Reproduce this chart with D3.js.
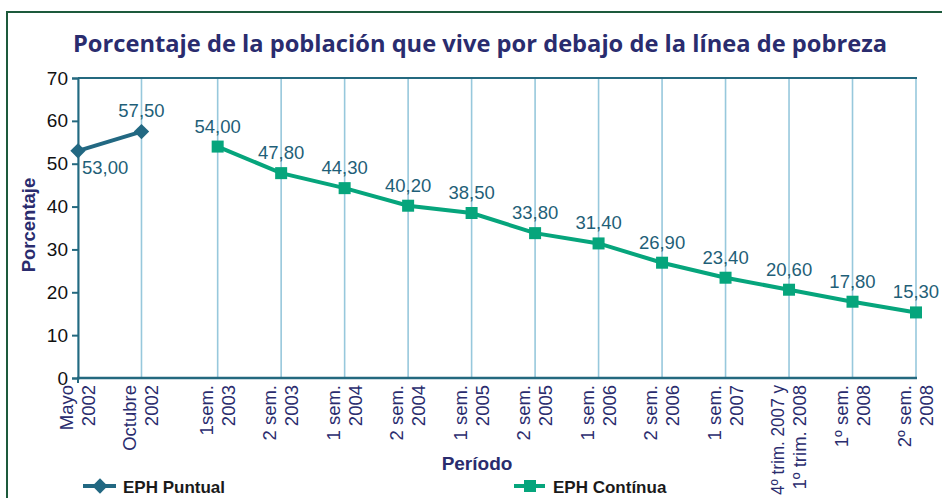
<!DOCTYPE html>
<html>
<head>
<meta charset="utf-8">
<script src="https://cdn.jsdelivr.net/npm/d3@7.9.0/dist/d3.min.js"></script>
<style>
  body { margin: 0; background: #fff; }
  svg { display: block; }
</style>
</head>
<body>
<div id="chart"></div>
<script>
// --- Data ---
const periods = [
  ['Mayo', '2002'], ['Octubre', '2002'], ['1sem.', '2003'], ['2 sem.', '2003'],
  ['1 sem.', '2004'], ['2 sem.', '2004'], ['1 sem.', '2005'], ['2 sem.', '2005'],
  ['1 sem.', '2006'], ['2 sem.', '2006'], ['1 sem.', '2007'],
  ['4º trim. 2007 y', '1º trim. 2008'], ['1º sem.', '2008'], ['2º sem.', '2008']
];
// index in periods for each series
const puntualIdx = [0, 1];
const puntualValues = [53.0, 57.5];
const continuaIdx = [2, 3, 4, 5, 6, 7, 8, 9, 10, 11, 12, 13];
const continuaValues = [54.0, 47.8, 44.3, 40.2, 38.5, 33.8, 31.4, 26.9, 23.4, 20.6, 17.8, 15.3];
const yTicks = [0, 10, 20, 30, 40, 50, 60, 70];

const fmt = v => v.toFixed(2).replace('.', ',');

// --- Layout ---
const width = 942, height = 498;
const plot = { left: 78, right: 916, top: 78, bottom: 378 };

const colPuntual = '#226882';
const colContinua = '#06a57c';
const axisCol = '#24697f';
const gridCol = '#97c8dc';
const navy = '#2a2c6e';
const sans = 'Liberation Sans, Arial, sans-serif';

// the gap between the two surveys is a bit wider than a regular step
const gap = 1.2;
const slot = i => (i <= 1 ? i : i - 1 + gap);

const x = d3.scaleLinear()
  .domain([0, slot(periods.length - 1)])
  .range([plot.left, plot.right]);
const y = d3.scaleLinear().domain([0, 70]).range([plot.bottom, plot.top]);

const svg = d3.select('#chart').append('svg')
  .attr('width', width).attr('height', height);

// frame
svg.append('path')
  .attr('d', `M7,${height} L7,12 L${width},12`)
  .attr('fill', 'none').attr('stroke', '#1d5a3c').attr('stroke-width', 2);

// title
svg.append('text')
  .attr('x', 480).attr('y', 52)
  .attr('text-anchor', 'middle')
  .attr('font-family', 'Open Sans, sans-serif')
  .attr('font-weight', 700).attr('font-size', 23)
  .attr('fill', navy)
  .attr('textLength', 814).attr('lengthAdjust', 'spacingAndGlyphs')
  .text('Porcentaje de la población que vive por debajo de la línea de pobreza');

// vertical gridlines
svg.append('g').selectAll('line')
  .data(periods.map((d, i) => i))
  .join('line')
  .attr('x1', i => x(slot(i))).attr('x2', i => x(slot(i)))
  .attr('y1', plot.top).attr('y2', plot.bottom)
  .attr('stroke', gridCol).attr('stroke-width', 1.6);

// top border
svg.append('line')
  .attr('x1', plot.left).attr('x2', plot.right + 1)
  .attr('y1', plot.top).attr('y2', plot.top)
  .attr('stroke', axisCol).attr('stroke-width', 2);

// y axis
const yAxis = svg.append('g')
  .attr('transform', `translate(${plot.left},0)`)
  .call(d3.axisLeft(y).tickValues(yTicks).tickSize(6).tickPadding(4));
yAxis.select('.domain').attr('stroke', axisCol).attr('stroke-width', 2);
yAxis.selectAll('.tick line').attr('stroke', axisCol).attr('stroke-width', 2);
yAxis.selectAll('.tick text')
  .attr('font-family', sans)
  .attr('font-size', 19).attr('fill', '#111');

// bottom axis line
svg.append('line')
  .attr('x1', plot.left - 1).attr('x2', plot.right + 1)
  .attr('y1', plot.bottom).attr('y2', plot.bottom)
  .attr('stroke', axisCol).attr('stroke-width', 2.5);
svg.append('line')
  .attr('x1', plot.left).attr('x2', plot.left)
  .attr('y1', plot.bottom).attr('y2', plot.bottom + 5)
  .attr('stroke', axisCol).attr('stroke-width', 2);

// x tick labels (rotated, two lines)
const xl = svg.append('g').selectAll('text')
  .data(periods)
  .join('text')
  .attr('transform', (d, i) => `translate(${x(slot(i))},${plot.bottom + 7}) rotate(-90)`)
  .attr('text-anchor', 'end')
  .attr('font-family', sans)
  .attr('font-size', 18.5).attr('fill', navy);
xl.append('tspan').attr('x', 0).attr('y', -5).text(d => d[0]);
xl.append('tspan').attr('x', 0).attr('y', 17).text(d => d[1]);
// long labels are set a bit tighter so they stay inside the frame
xl.selectAll('tspan').each(function () {
  if (this.getComputedTextLength() > 110) {
    d3.select(this).attr('textLength', 110).attr('lengthAdjust', 'spacingAndGlyphs');
  }
});

// axis titles
svg.append('text')
  .attr('transform', 'translate(35,225) rotate(-90)')
  .attr('text-anchor', 'middle')
  .attr('font-family', sans)
  .attr('font-weight', 700).attr('font-size', 18.5).attr('fill', navy)
  .text('Porcentaje');
svg.append('text')
  .attr('x', 477).attr('y', 470)
  .attr('text-anchor', 'middle')
  .attr('font-family', sans)
  .attr('font-weight', 700).attr('font-size', 19).attr('fill', navy)
  .text('Período');

// series
const line = d3.line().x(d => x(slot(d[0]))).y(d => y(d[1]));
const puntual = puntualIdx.map((i, k) => [i, puntualValues[k]]);
const continua = continuaIdx.map((i, k) => [i, continuaValues[k]]);

svg.append('path').datum(puntual).attr('d', line)
  .attr('fill', 'none').attr('stroke', colPuntual).attr('stroke-width', 4);
svg.append('path').datum(continua).attr('d', line)
  .attr('fill', 'none').attr('stroke', colContinua).attr('stroke-width', 4);

const diamond = d3.symbol().type(d3.symbolDiamond2).size(150);
svg.append('g').selectAll('path')
  .data(puntual).join('path')
  .attr('d', diamond)
  .attr('transform', d => `translate(${x(slot(d[0]))},${y(d[1])})`)
  .attr('fill', colPuntual);

svg.append('g').selectAll('rect')
  .data(continua).join('rect')
  .attr('x', d => x(slot(d[0])) - 6).attr('y', d => y(d[1]) - 6)
  .attr('width', 12).attr('height', 12)
  .attr('fill', colContinua);

// value labels
const labelStyle = s => s
  .attr('font-family', sans)
  .attr('font-size', 18.5).attr('fill', '#1f5f78');

svg.append('text').call(labelStyle)
  .attr('x', x(slot(0)) + 4).attr('y', y(puntualValues[0]) + 23)
  .text(fmt(puntualValues[0]));
svg.append('text').call(labelStyle)
  .attr('x', x(slot(1))).attr('y', y(puntualValues[1]) - 15)
  .attr('text-anchor', 'middle')
  .text(fmt(puntualValues[1]));
svg.append('g').selectAll('text')
  .data(continua).join('text').call(labelStyle)
  .attr('x', d => x(slot(d[0]))).attr('y', d => y(d[1]) - 14)
  .attr('text-anchor', 'middle')
  .text(d => fmt(d[1]));

// legend
const legend = svg.append('g');
const legendText = s => s
  .attr('font-family', sans)
  .attr('font-weight', 700).attr('font-size', 17).attr('fill', '#1a1a1a');
legend.append('line').attr('x1', 83).attr('x2', 116).attr('y1', 486).attr('y2', 486)
  .attr('stroke', colPuntual).attr('stroke-width', 4);
legend.append('path').attr('d', diamond)
  .attr('transform', 'translate(100,486)').attr('fill', colPuntual);
legend.append('text').attr('x', 123).attr('y', 493).call(legendText)
  .text('EPH Puntual');

legend.append('line').attr('x1', 514).attr('x2', 545).attr('y1', 486).attr('y2', 486)
  .attr('stroke', colContinua).attr('stroke-width', 4);
legend.append('rect').attr('x', 524).attr('y', 480).attr('width', 12).attr('height', 12)
  .attr('fill', colContinua);
legend.append('text').attr('x', 553).attr('y', 493).call(legendText)
  .text('EPH Contínua');
</script>
</body>
</html>
